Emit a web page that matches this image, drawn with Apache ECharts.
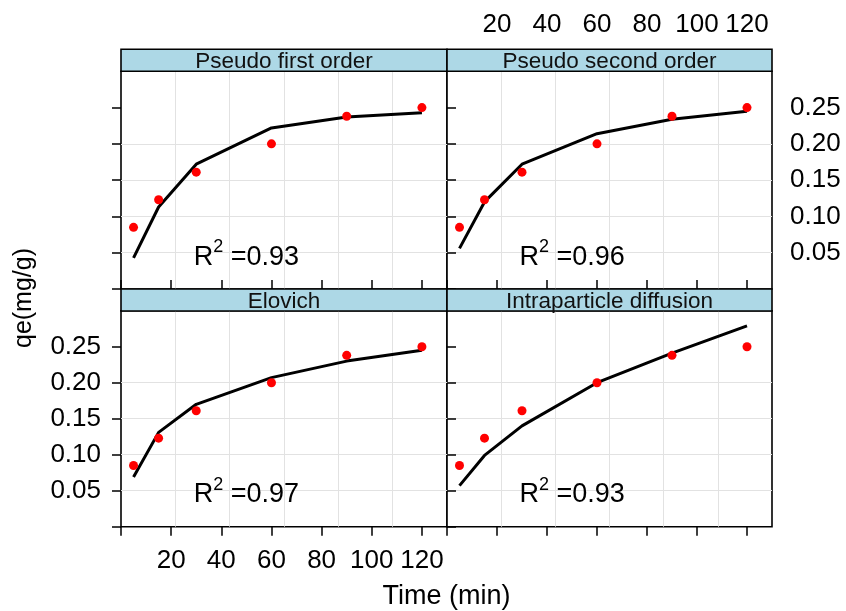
<!DOCTYPE html>
<html>
<head>
<meta charset="utf-8">
<script src="https://cdn.jsdelivr.net/npm/echarts@6/dist/echarts.min.js"></script>
<style>
  html, body { margin: 0; padding: 0; background: #fff; }
  #main { width: 846px; height: 611px; }
</style>
</head>
<body>
<div id="main"></div>
<script>
// observed data (same in every panel)
const times = [5, 15, 30, 60, 90, 120];
const qeObserved = [0.085, 0.123, 0.161, 0.200, 0.238, 0.250];

// fitted model curves
const fitPFO = [0.043, 0.113, 0.172, 0.222, 0.237, 0.243];
const fitPSO = [0.056, 0.120, 0.172, 0.214, 0.234, 0.245];
const fitElovich = [0.069, 0.131, 0.170, 0.207, 0.230, 0.245];
const fitIntra = [0.057, 0.099, 0.140, 0.200, 0.241, 0.279];

const panelNames = ['Pseudo first order', 'Pseudo second order', 'Elovich', 'Intraparticle diffusion'];
const r2Values = ['0.93', '0.96', '0.97', '0.93'];

// axis ticks / labels
const xTicks = [0, 20, 40, 60, 80, 100, 120];
const xLabels = [20, 40, 60, 80, 100, 120];
const yTicks = [0, 0.05, 0.10, 0.15, 0.20, 0.25];
const yLabels = [0.05, 0.10, 0.15, 0.20, 0.25];

const fits = [fitPFO, fitPSO, fitElovich, fitIntra];

const FONT = '"Liberation Sans", Arial, sans-serif';
const cols = [{ left: 121, width: 326 }, { left: 447, width: 325 }];
const rows = [
  { strip: 49.3, top: 71.3, height: 217.7 },
  { strip: 289, top: 310.7, height: 216 }
];
const stripH = 22;

const chart = echarts.init(document.getElementById('main'));
const grids = [], xAxes = [], yAxes = [], series = [], graphics = [];
const tickStyle = { color: '#000', width: 1.5 };

for (let i = 0; i < 4; i++) {
  const col = cols[i % 2];
  const row = rows[Math.floor(i / 2)];
  const isTop = i < 2;
  const isLeft = i % 2 === 0;

  grids.push({
    left: col.left, top: row.top, width: col.width, height: row.height,
    show: true, borderColor: '#000', borderWidth: 1.6, backgroundColor: '#fff'
  });

  xAxes.push({
    type: 'value', gridIndex: i, min: 0, max: 130,
    position: isTop ? 'top' : 'bottom',
    offset: isTop ? stripH : 0,
    axisLine: { show: false },
    axisTick: { show: true, length: 9, customValues: xTicks, lineStyle: tickStyle },
    axisLabel: {
      show: isTop !== isLeft, customValues: xLabels,
      margin: isTop ? 11 : 21, fontSize: 26, color: '#000', fontFamily: FONT
    },
    splitLine: { show: false }
  });

  yAxes.push({
    type: 'value', gridIndex: i, min: 0, max: 0.3, interval: 0.05,
    position: isLeft ? 'left' : 'right',
    axisLine: { show: false },
    axisTick: { show: true, length: 9, customValues: yTicks, lineStyle: tickStyle },
    axisLabel: {
      show: isTop !== isLeft, customValues: yLabels,
      margin: isLeft ? 20 : 18, fontSize: 26, color: '#000', fontFamily: FONT,
      formatter: v => v.toFixed(2)
    },
    splitLine: { show: true, showMinLine: false, showMaxLine: false, lineStyle: { color: '#e2e2e2', width: 1 } }
  });

  // fitted line
  series.push({
    type: 'line', xAxisIndex: i, yAxisIndex: i,
    data: times.map((t, k) => [t, fits[i][k]]),
    showSymbol: false, symbol: 'none',
    lineStyle: { color: '#000', width: 3 },
    z: 2
  });
  // observed points
  series.push({
    type: 'scatter', xAxisIndex: i, yAxisIndex: i,
    data: times.map((t, k) => [t, qeObserved[k]]),
    symbolSize: 9,
    itemStyle: { color: '#ff0000', opacity: 1 },
    z: 3
  });
  // R^2 annotation
  series.push({
    type: 'scatter', xAxisIndex: i, yAxisIndex: i,
    data: [[29, 0.044]],
    symbolSize: 0,
    silent: true,
    itemStyle: { opacity: 1 },
    label: {
      show: true, position: 'right', distance: 0, color: '#000', opacity: 1,
      formatter: '{r|R}{s|2}{r| =' + r2Values[i] + '}',
      rich: {
        r: { fontSize: 27, lineHeight: 38, color: '#000', fontFamily: FONT },
        s: { fontSize: 18, lineHeight: 18, verticalAlign: 'top', color: '#000', fontFamily: FONT }
      }
    },
    z: 4
  });

  // strip
  graphics.push({
    type: 'rect',
    shape: { x: col.left, y: row.strip, width: col.width, height: stripH },
    style: { fill: '#add8e6', stroke: '#000', lineWidth: 1.6 },
    z: 10
  });
  graphics.push({
    type: 'text',
    x: col.left + col.width / 2, y: row.strip + stripH / 2 + 1.5,
    style: {
      text: panelNames[i], fontSize: 22.5, fontFamily: FONT, fill: '#111',
      align: 'center', verticalAlign: 'middle'
    },
    z: 11
  });
}

// gridline axes: the light grid splits each panel into six columns
for (let i = 0; i < 4; i++) {
  xAxes.push({
    type: 'value', gridIndex: i, min: 0, max: 6, interval: 1,
    axisLine: { show: false }, axisTick: { show: false }, axisLabel: { show: false },
    splitLine: { show: true, showMinLine: false, showMaxLine: false, lineStyle: { color: '#e2e2e2', width: 1 } }
  });
}

graphics.push({
  type: 'text', x: 446.5, y: 597,
  style: { text: 'Time (min)', fontSize: 27, fontFamily: FONT, fill: '#000', align: 'center', verticalAlign: 'middle' }
});
graphics.push({
  type: 'text', x: 24, y: 298, rotation: Math.PI / 2,
  style: { text: 'qe(mg/g)', fontSize: 25, fontFamily: FONT, fill: '#000', align: 'center', verticalAlign: 'middle' }
});

chart.setOption({
  animation: false,
  backgroundColor: '#fff',
  grid: grids,
  xAxis: xAxes,
  yAxis: yAxes,
  series: series,
  graphic: graphics
});
window.addEventListener('resize', () => chart.resize());
</script>
</body>
</html>
